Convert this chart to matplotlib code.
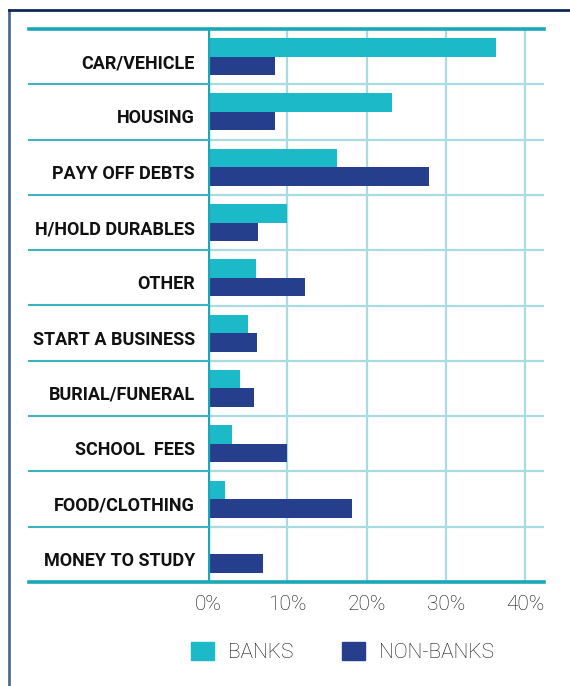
import numpy as np
import matplotlib.pyplot as plt
import matplotlib.transforms as mtransforms
from matplotlib.lines import Line2D
from matplotlib.patches import Patch

# loan purpose by lender type (% of borrowers)
categories = ['CAR/VEHICLE', 'HOUSING', 'PAYY OFF DEBTS', 'H/HOLD DURABLES', 'OTHER',
              'START A BUSINESS', 'BURIAL/FUNERAL', 'SCHOOL  FEES', 'FOOD/CLOTHING',
              'MONEY TO STUDY']
banks = [36.3, 23.2, 16.3, 10.0, 6.0, 5.0, 4.0, 3.0, 2.1, 0.0]
non_banks = [8.4, 8.4, 27.9, 6.3, 12.2, 6.2, 5.8, 10.0, 18.1, 6.9]
xticks = [0, 10, 20, 30, 40]
series_names = ['BANKS', 'NON-BANKS']

BANK_COL = '#1cb9c8'
NONBANK_COL = '#253f8d'
TEAL = '#1aa8b8'
LIGHT = '#a9dce2'

W, H = 570, 686
plt.rcParams['font.family'] = ['Roboto', 'DejaVu Sans']

fig = plt.figure(figsize=(W / 100, H / 100), dpi=100)


def fx(px):
    return px / W


def fy(py):
    return 1 - py / H


# plot area in pixels
left, right, top, bottom = 208, 544, 29, 582
ax = fig.add_axes([fx(left), fy(bottom), fx(right - left), fy(top) - fy(bottom)])

y = np.arange(len(categories))
h = 0.335
ax.barh(y - h / 2, banks, height=h, color=BANK_COL, zorder=2)
ax.barh(y + h / 2, non_banks, height=h, color=NONBANK_COL, zorder=2)

ax.set_xlim(0, (right - left) / 7.935)
ax.set_ylim(len(categories) - 0.5, -0.5)

ax.set_yticks(y)
ax.set_yticklabels(categories, fontsize=13, fontweight='bold', color='#111111')
ax.set_xticks(xticks)
ax.set_xticklabels([f'{t}%' for t in xticks], fontsize=15, fontweight='light',
                   color='#111111')
ax.tick_params(axis='y', length=0, pad=9.5)
ax.tick_params(axis='x', length=0, pad=9)

# category names sit a little below the row centre
shift = mtransforms.ScaledTranslation(0, -0.045, fig.dpi_scale_trans)
for lab in ax.get_yticklabels():
    lab.set_transform(lab.get_transform() + shift)

for s in ax.spines.values():
    s.set_visible(False)

# vertical grid and row separators
for t in xticks[1:]:
    ax.axvline(t, color=LIGHT, lw=1.6, zorder=1)
for k in range(len(categories) - 1):
    ax.axhline(k + 0.5, color=LIGHT, lw=1.6, zorder=1)
ax.axvline(0, color=TEAL, lw=2.4, zorder=3)

# lines running across the label column
row_h = (bottom - top) / len(categories)
for k in range(1, len(categories)):
    yy = fy(top + k * row_h)
    fig.add_artist(Line2D([fx(29), fx(left)], [yy, yy], color='#3db4c3', lw=1.5))
for yy in (top, bottom):
    fig.add_artist(Line2D([fx(29), fx(right)], [fy(yy), fy(yy)], color=TEAL, lw=2.6))

# outer frame
fig.add_artist(Line2D([fx(9), fx(9)], [fy(10), 0], color='#4d6b94', lw=2))
fig.add_artist(Line2D([fx(9), 1], [fy(10), fy(10)], color='#10295a', lw=2))

handles = [Patch(color=BANK_COL), Patch(color=NONBANK_COL)]
fig.legend(handles, series_names, loc='center left', bbox_to_anchor=(fx(191), fy(652)),
           ncol=2, frameon=False, handlelength=1.1, handleheight=0.92,
           handletextpad=0.7, columnspacing=2.3, borderpad=0, borderaxespad=0,
           labelcolor='#111111', prop={'size': 15, 'weight': 'light'})

fig.savefig('out.png', dpi=100)
